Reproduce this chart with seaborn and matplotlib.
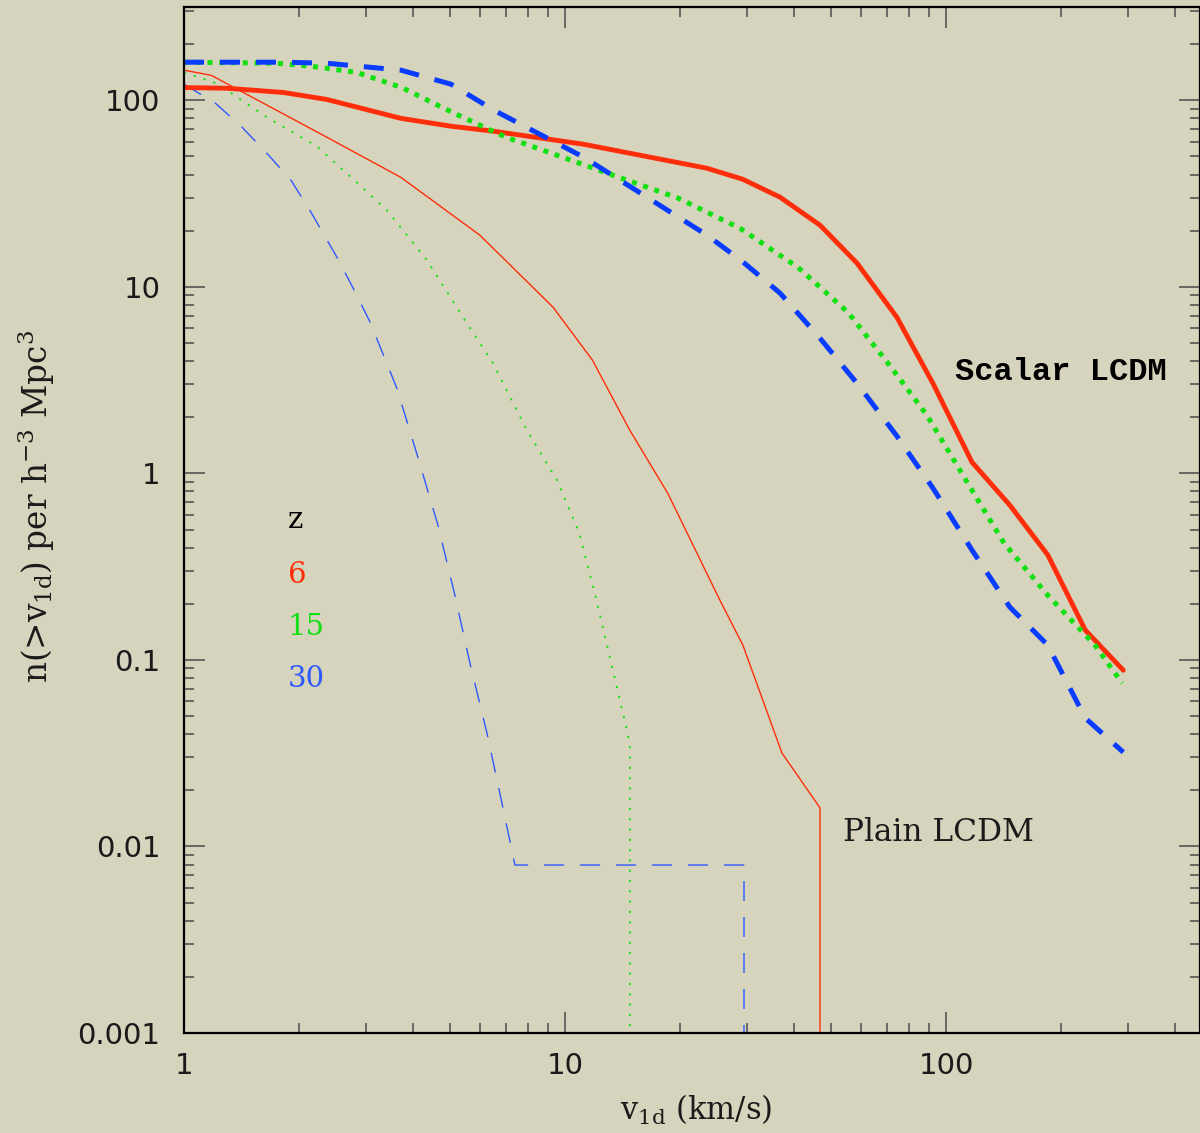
import numpy as np
import pandas as pd
import matplotlib
matplotlib.use("Agg")
import matplotlib.pyplot as plt
import matplotlib.ticker as mticker
import seaborn as sns

# ---- data ----
# Scalar LCDM (thick lines)
scalar_z6_v = [1.0, 1.30, 1.83, 2.37, 3.71, 5.02, 6.51, 11.2, 23.6, 29.3, 36.7, 46.7, 58.4, 74.3, 92.4, 117, 147, 185, 232, 292]
scalar_z6_n = [117, 116, 110, 101, 80, 72.6, 68.2, 58.1, 43.2, 37.7, 30.2, 21.4, 13.4, 6.87, 3.04, 1.148, 0.676, 0.365, 0.1445, 0.088]

scalar_z15_v = [1.0, 1.75, 2.17, 2.84, 3.73, 5.05, 7.0, 9.7, 13.4, 19.8, 28.8, 40.9, 55.3, 72.1, 89.1, 114, 142, 185, 246, 290]
scalar_z15_n = [160, 158, 152, 141, 117, 86.3, 63.4, 50.1, 39.6, 29.9, 20.6, 12.7, 7.3, 3.66, 2.05, 0.886, 0.423, 0.222, 0.12, 0.075]

scalar_z30_v = [1.0, 1.30, 1.83, 2.37, 3.71, 5.02, 6.51, 11.2, 23.6, 29.3, 36.7, 46.7, 58.4, 74.3, 92.4, 117, 147, 185, 232, 292]
scalar_z30_n = [160, 160, 160, 158, 145, 122, 88.4, 49.5, 18.9, 13.6, 9.24, 5.3, 3.04, 1.585, 0.834, 0.388, 0.192, 0.12, 0.0488, 0.032]

# Plain LCDM (thin lines)
plain_z6_v = [1.0, 1.18, 2.37, 3.71, 5.98, 9.30, 11.8, 14.8, 18.6, 25.5, 29.3, 37.1, 46.7, 46.7]
plain_z6_n = [145, 136, 63.4, 38.6, 18.9, 7.78, 4.05, 1.70, 0.783, 0.209, 0.12, 0.0317, 0.0161, 1e-4]

plain_z15_v = [1.0, 1.22, 1.65, 2.23, 2.84, 3.41, 4.34, 5.40, 6.47, 7.95, 9.52, 10.9, 12.1, 14.6, 14.8, 14.8]
plain_z15_n = [141, 123, 81.1, 56.7, 36.3, 25.7, 13.9, 6.87, 3.9, 1.70, 0.92, 0.479, 0.209, 0.0405, 0.034, 1e-4]

plain_z30_v = [1.0, 1.21, 1.42, 1.65, 1.91, 2.14, 2.52, 2.78, 3.08, 3.62, 4.11, 4.64, 5.14, 5.63, 6.24, 6.83, 7.39, 29.5, 29.5]
plain_z30_n = [122, 96.3, 71.7, 52, 37.2, 25.7, 14.4, 9.83, 6.46, 2.86, 1.22, 0.528, 0.222, 0.0961, 0.0405, 0.0171, 0.00795, 0.00795, 1e-4]

redshift_labels = ["6", "15", "30"]
y_ticks = [0.001, 0.01, 0.1, 1, 10, 100]
y_tick_labels = ["0.001", "0.01", "0.1", "1", "10", "100"]
x_ticks = [1, 10, 100]
x_tick_labels = ["1", "10", "100"]

# ---- style ----
BG = "#d6d4bd"
RED = "#ff2e0a"
GREEN = "#12e012"
BLUE = "#0a3cff"
BLUE_THIN = "#2f58ff"

sns.set_theme(style="ticks")
plt.rcParams["font.family"] = ["DejaVu Sans"]
plt.rcParams["mathtext.fontset"] = "dejavuserif"

fig = plt.figure(figsize=(12, 11.33), dpi=100, facecolor=BG)
ax = fig.add_axes([184 / 1200, 1 - 1033 / 1133, 1016 / 1200, 1026 / 1133])
ax.set_facecolor(BG)
ax.set_xscale("log")
ax.set_yscale("log")


def draw(v, n, **kw):
    df = pd.DataFrame({"v": v, "n": n})
    sns.lineplot(data=df, x="v", y="n", ax=ax, sort=False, estimator=None, **kw)


# thin (plain) lines
draw(plain_z6_v, plain_z6_n, color=RED, linewidth=1.0)
draw(plain_z15_v, plain_z15_n, color=GREEN, linewidth=1.3, linestyle=(0, (1.2, 4.5)))
draw(plain_z30_v, plain_z30_n, color=BLUE_THIN, linewidth=1.0, linestyle=(0, (14.4, 11.5)))

# thick (scalar) lines
draw(scalar_z6_v, scalar_z6_n, color=RED, linewidth=3.5)
draw(scalar_z15_v, scalar_z15_n, color=GREEN, linewidth=3.6, linestyle=(0, (1, 1.35)))
draw(scalar_z30_v, scalar_z30_n, color=BLUE, linewidth=3.6, linestyle=(0, (4, 3.2)))

ax.set_xlim(1, 10 ** (1016 / 381))
ax.set_ylim(0.001, 10 ** 2.5)

ax.xaxis.set_major_locator(mticker.FixedLocator(x_ticks))
ax.xaxis.set_major_formatter(mticker.FixedFormatter(x_tick_labels))
ax.yaxis.set_major_locator(mticker.FixedLocator(y_ticks))
ax.yaxis.set_major_formatter(mticker.FixedFormatter(y_tick_labels))
ax.xaxis.set_minor_locator(mticker.LogLocator(base=10, subs=np.arange(2, 10), numticks=20))
ax.yaxis.set_minor_locator(mticker.LogLocator(base=10, subs=np.arange(2, 10), numticks=20))
ax.xaxis.set_minor_formatter(mticker.NullFormatter())
ax.yaxis.set_minor_formatter(mticker.NullFormatter())

ax.tick_params(which="both", direction="in", top=True, right=True, colors="#555555",
               labelcolor="#1a1a1a", width=1.2)
ax.tick_params(which="major", length=15, labelsize=21)
ax.tick_params(which="minor", length=7.5)
ax.tick_params(axis="x", which="major", pad=14)
ax.tick_params(axis="y", which="major", pad=17)
for s in ax.spines.values():
    s.set_color("black")
    s.set_linewidth(1.6)

ax.set_xlabel("")
ax.set_ylabel("")
fig.text(696 / 1200, 1 - 1110 / 1133, r"v$_{\rm 1d}$ (km/s)", ha="center", va="center",
         fontsize=22, family="DejaVu Serif", color="#1a1a1a")
fig.text(36 / 1200, 1 - 506 / 1133, r"n(>v$_{\rm 1d}$) per h$^{-3}$ Mpc$^{3}$", ha="center",
         va="center", rotation=90, fontsize=23.5, family="DejaVu Serif", color="#1a1a1a")

# annotations
ax.text(0.102, 0.492, "z", transform=ax.transAxes, fontsize=21, family="DejaVu Serif",
        color="black", ha="left", va="baseline")
for lab, yy, col in zip(redshift_labels, [0.4386, 0.388, 0.337], [RED, GREEN, BLUE_THIN]):
    ax.text(0.102, yy, lab, transform=ax.transAxes, fontsize=21, family="DejaVu Serif",
            color=col, ha="left", va="baseline")

ax.text(0.759, 0.6365, "Scalar LCDM", transform=ax.transAxes, fontsize=23,
        family="Liberation Mono", weight="bold", color="black", ha="left", va="baseline")
ax.text(0.6486, 0.187, "Plain LCDM", transform=ax.transAxes, fontsize=22.5,
        family="DejaVu Serif", color="#1a1a1a", ha="left", va="baseline")

fig.savefig("out.png", dpi=100, facecolor=BG)
